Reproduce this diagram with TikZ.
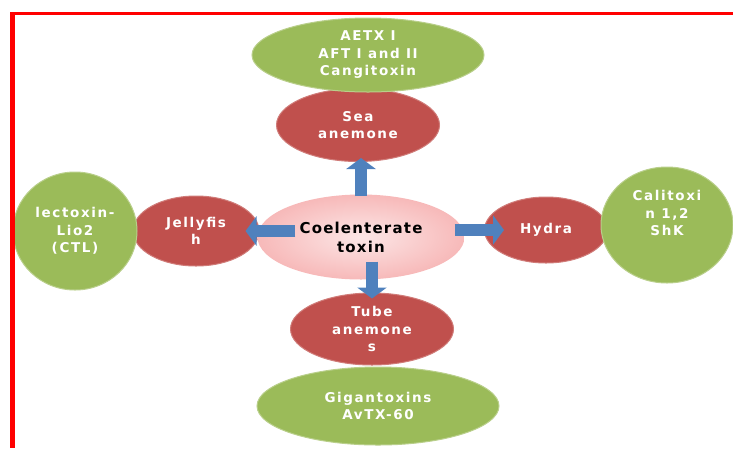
\documentclass[tikz,border=0pt]{standalone}
\usepackage{fontspec}
\setmainfont{DejaVu Sans}
\usetikzlibrary{shapes.geometric,arrows.meta}
\definecolor{leafgreen}{HTML}{9BBB59}
\definecolor{brickred}{HTML}{C0504D}
\definecolor{steelblue}{HTML}{4F81BD}
\definecolor{blushpink}{HTML}{F7B9B9}
\tikzset{
  blob/.style={ellipse, inner sep=0pt, align=center, text=white,
    font=\bfseries\fontsize{13.5}{17.5}\selectfont\addfontfeature{LetterSpace=12}},
  toxin/.style={blob, fill=leafgreen, draw=leafgreen!70!white, line width=1pt},
  animal/.style={blob, fill=brickred, draw=brickred!75!white, line width=1pt},
  flow/.style={steelblue, line width=12pt, -{Triangle[width=29pt,length=11pt]}},
}
\begin{document}
\begin{tikzpicture}[x=1pt, y=-1pt]
  \useasboundingbox (0,0) rectangle (733,448);
  % animals
  \node[animal, minimum width=163pt, minimum height=73pt] (sea) at (358,125) {Sea\\anemone};
  \node[animal, minimum width=126pt, minimum height=70pt] (jelly) at (196,231) {Jellyfis\\h};
  \node[animal, minimum width=123pt, minimum height=66pt] (hydra) at (546,230) {Hydra};
  \node[animal, minimum width=163pt, minimum height=72pt] (tube) at (372,329) {Tube\\anemone\\s};
  % toxins
  \node[toxin, minimum width=232pt, minimum height=74pt] (aetx) at (368,55) {AETX I\\AFT I and II\\Cangitoxin};
  \node[toxin, minimum width=124pt, minimum height=118pt] (lecto) at (75,231) {lectoxin-\\Lio2\\(CTL)};
  \node[toxin, minimum width=132pt, minimum height=116pt] (calit) at (667,225) {};
  \node[blob, yshift=12pt] (calitext) at (calit) {Calitoxi\\n 1,2\\ShK};
  \node[toxin, minimum width=242pt, minimum height=78pt] (gigan) at (378,406) {Gigantoxins\\AvTX-60};
  % centre
  \node[blob, text=black, minimum width=207pt, minimum height=85pt,
    inner color=blushpink!35!white, outer color=blushpink,
    font=\bfseries\fontsize{15}{19}\selectfont\addfontfeature{LetterSpace=8}] (core) at (361,237) {Coelenterate\\toxin};
  % arrows
  \draw[flow] ([yshift=-2pt]core.north) -- ([yshift=4pt]core.north |- sea.south);
  \draw[flow] ([xshift=38pt]core.west |- jelly.east) -- ([xshift=-14pt]jelly.east);
  \draw[flow] ([xshift=-10pt]core.east |- hydra.west) -- ([xshift=20pt]hydra.west);
  \draw[flow] ([yshift=18pt]core.south -| tube.north) -- ([yshift=-6pt]tube.north);
  % frame
  \draw[red, line width=3pt] (10,13.5) -- (733,13.5);
  \draw[red, line width=5pt] (12.5,12) -- (12.5,448);
\end{tikzpicture}
\end{document}
